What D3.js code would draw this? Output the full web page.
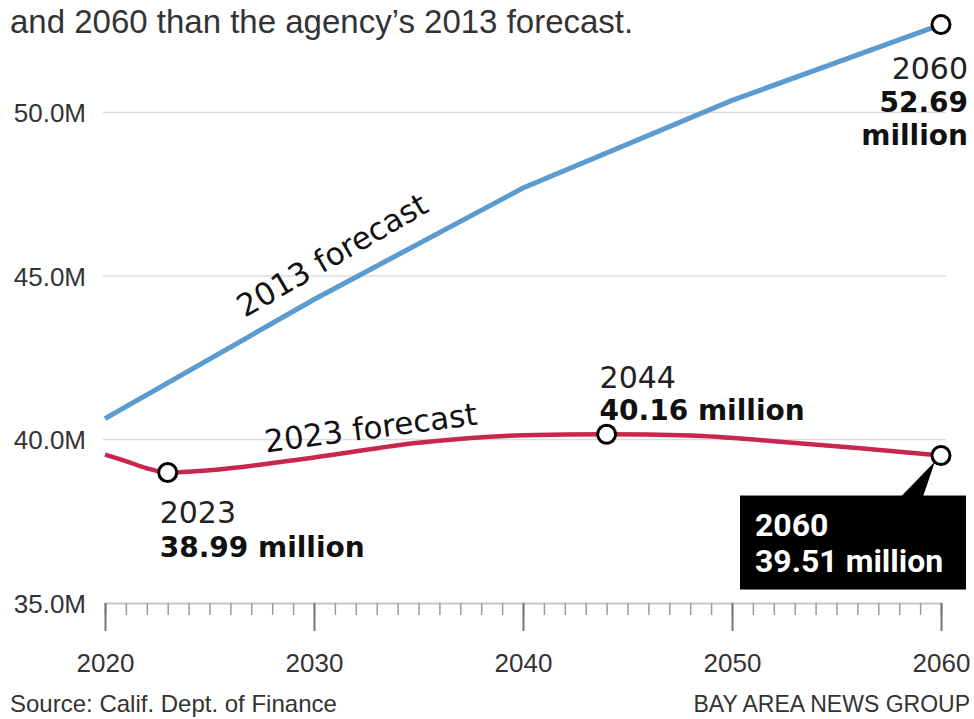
<!DOCTYPE html>
<html>
<head>
<meta charset="utf-8">
<script src="https://cdn.jsdelivr.net/npm/d3@7"></script>
<style>
  body { margin: 0; background: #fff; }
  svg { display: block; }
</style>
</head>
<body>
<div id="chart"></div>
<script>
// 2013 forecast (millions)
const years2013 = [2020, 2030, 2040, 2050, 2060];
const pop2013 = [40.64, 44.28, 47.69, 50.37, 52.69];

// 2023 forecast (millions)
const years2023 = [2020, 2021, 2022, 2023, 2025, 2030, 2035, 2040, 2044, 2048, 2052, 2056, 2060];
const pop2023 = [39.54, 39.34, 39.12, 38.99, 39.06, 39.45, 39.90, 40.13, 40.16, 40.12, 39.95, 39.74, 39.51];

const yTicks = [35, 40, 45, 50];
const xTicks = [2020, 2030, 2040, 2050, 2060];
const minorTicks = d3.range(2020, 2061);

const titleLine = "and 2060 than the agency\u2019s 2013 forecast.";
const sourceText = "Source: Calif. Dept. of Finance";
const creditText = "BAY AREA NEWS GROUP";

const width = 974, height = 719;
const blue = "#5b9bd0", red = "#c8264c";
const sans = "'Liberation Sans', Arial, sans-serif";
const geo = "'DejaVu Sans', sans-serif";

let svg = d3.select("#chart").append("svg")
    .attr("width", width)
    .attr("height", height);

svg.append("rect").attr("width", width).attr("height", height).attr("fill", "#fff");

// scales
let x = d3.scaleLinear().domain([2020, 2060]).range([105, 941]);
let y = d3.scaleLinear().domain([35, 50]).range([603, 112.5]);

// title (only last line visible)
svg.append("text")
    .attr("x", 10).attr("y", 33)
    .attr("font-family", sans).attr("font-size", 33)
    .attr("fill", "#333")
    .text(titleLine);

// gridlines
svg.append("g")
    .selectAll("line")
    .data(yTicks.filter(d => d > 35))
    .join("line")
    .attr("x1", 103).attr("x2", 946)
    .attr("y1", d => y(d)).attr("y2", d => y(d))
    .attr("stroke", "#dcdcdc").attr("stroke-width", 1.5);

// y labels
let yAxis = d3.axisLeft(y).tickValues(yTicks).tickSize(0).tickPadding(0)
    .tickFormat(d => d.toFixed(1) + "M");
let gy = svg.append("g").attr("transform", "translate(86,0)").call(yAxis);
gy.select(".domain").remove();
gy.selectAll("text")
    .attr("font-family", sans).attr("font-size", 26)
    .attr("fill", "#333").attr("dy", "0.36em");

// x axis: minor yearly ticks
let gxMinor = svg.append("g")
    .attr("transform", "translate(0," + y(35) + ")")
    .call(d3.axisBottom(x).tickValues(minorTicks).tickSize(12).tickFormat(""));
gxMinor.select(".domain").attr("stroke", "#c8c8c8").attr("stroke-width", 2);
gxMinor.selectAll(".tick line").attr("stroke", "#9a9a9a").attr("stroke-width", 1.5);

// x axis: decade ticks with labels
let gx = svg.append("g")
    .attr("transform", "translate(0," + y(35) + ")")
    .call(d3.axisBottom(x).tickValues(xTicks).tickSize(28).tickPadding(23).tickFormat(d3.format("d")));
gx.select(".domain").remove();
gx.selectAll(".tick line").attr("stroke", "#777").attr("stroke-width", 2);
gx.selectAll("text")
    .attr("font-family", sans).attr("font-size", 26).attr("fill", "#333");

// lines
let line = d3.line()
    .x(d => x(d[0]))
    .y(d => y(d[1]));

svg.append("path")
    .datum(d3.zip(years2013, pop2013))
    .attr("fill", "none").attr("stroke", blue).attr("stroke-width", 5)
    .attr("d", line.curve(d3.curveLinear));

svg.append("path")
    .datum(d3.zip(years2023, pop2023))
    .attr("fill", "none").attr("stroke", red).attr("stroke-width", 4.5)
    .attr("d", line.curve(d3.curveMonotoneX));

// series labels
function seriesLabel(txt, year, val, dx, dy, angle) {
    let px = x(year) + dx, py = y(val) + dy;
    svg.append("text")
        .attr("transform", "translate(" + px + "," + py + ") rotate(" + angle + ")")
        .attr("font-family", geo).attr("font-size", 31).attr("fill", "#111")
        .text(txt);
}
seriesLabel("2013 forecast", 2026.5, 42.4, 4, -43, -30);
seriesLabel("2023 forecast", 2027.7, 39.3, 0, -10, -7.5);

// highlighted points
const hiYears = [2023, 2044, 2060];
const hiValues = [38.99, 40.16, 39.51];
const topYear = 2060, topValue = 52.69;

// 2023 label
let m1x = x(2023), m1y = y(38.99);
svg.append("text").attr("x", m1x - 8).attr("y", m1y + 50)
    .attr("font-family", geo).attr("font-size", 30).attr("fill", "#222").text("2023");
svg.append("text").attr("x", m1x - 8).attr("y", m1y + 84)
    .attr("font-family", geo).attr("font-weight", "bold").attr("font-size", 28).attr("fill", "#111")
    .text((38.99).toFixed(2) + " million");

// 2044 label
let m2x = x(2044), m2y = y(40.16);
svg.append("text").attr("x", m2x - 7).attr("y", m2y - 46)
    .attr("font-family", geo).attr("font-size", 30).attr("fill", "#222").text("2044");
svg.append("text").attr("x", m2x - 7).attr("y", m2y - 14)
    .attr("font-family", geo).attr("font-weight", "bold").attr("font-size", 28).attr("fill", "#111")
    .text((40.16).toFixed(2) + " million");

// 2060 (2013 forecast) label
let m3x = x(topYear), m3y = y(topValue);
svg.append("text").attr("x", m3x + 27).attr("y", m3y + 54).attr("text-anchor", "end")
    .attr("font-family", geo).attr("font-size", 30).attr("fill", "#222").text("2060");
svg.append("text").attr("x", m3x + 27).attr("y", m3y + 87).attr("text-anchor", "end")
    .attr("font-family", geo).attr("font-weight", "bold").attr("font-size", 28).attr("fill", "#111")
    .text(topValue.toFixed(2));
svg.append("text").attr("x", m3x + 27).attr("y", m3y + 120).attr("text-anchor", "end")
    .attr("font-family", geo).attr("font-weight", "bold").attr("font-size", 28).attr("fill", "#111")
    .text("million");

// 2060 (2023 forecast) black callout box
let m4x = x(2060), m4y = y(39.51);
svg.append("path")
    .attr("d", "M" + (m4x - 40) + "," + (m4y + 41) + "L" + (m4x - 18) + "," + (m4y + 41) + "L" + (m4x - 6) + "," + (m4y + 6) + "Z")
    .attr("fill", "#000");
svg.append("rect")
    .attr("x", m4x - 201).attr("y", m4y + 40)
    .attr("width", 226).attr("height", 94)
    .attr("fill", "#000");
svg.append("text").attr("x", m4x - 186).attr("y", m4y + 80)
    .attr("font-family", "Roboto, sans-serif").attr("font-weight", "bold").attr("font-size", 32).attr("fill", "#fff")
    .text("2060");
svg.append("text").attr("x", m4x - 186).attr("y", m4y + 116)
    .attr("font-family", "Roboto, sans-serif").attr("font-weight", "bold").attr("font-size", 32).attr("fill", "#fff")
    .text((39.51).toFixed(2) + " million");

// markers
svg.append("g")
    .selectAll("circle")
    .data(d3.zip(hiYears.concat([topYear]), hiValues.concat([topValue])))
    .join("circle")
    .attr("cx", d => x(d[0])).attr("cy", d => y(d[1]))
    .attr("r", 9)
    .attr("fill", "#fff").attr("stroke", "#000").attr("stroke-width", 3);

// footer
svg.append("text")
    .attr("x", 10).attr("y", 712)
    .attr("font-family", sans).attr("font-size", 24).attr("fill", "#333")
    .text(sourceText);
svg.append("text")
    .attr("x", 970).attr("y", 712).attr("text-anchor", "end")
    .attr("font-family", sans).attr("font-size", 23).attr("fill", "#333")
    .text(creditText);
</script>
</body>
</html>
